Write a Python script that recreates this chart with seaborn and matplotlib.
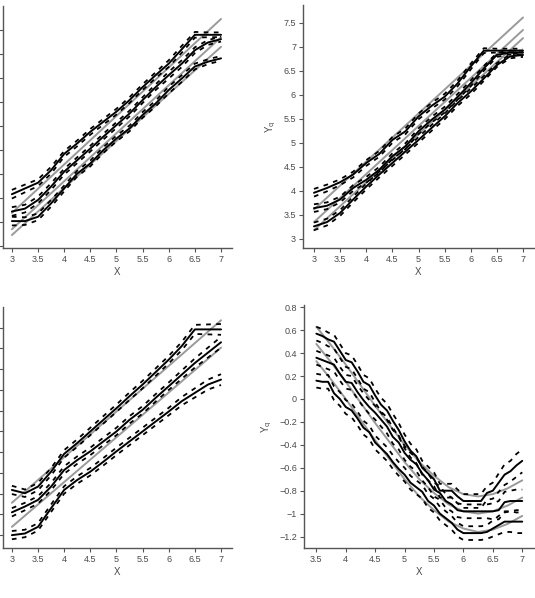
import numpy as np
import matplotlib
matplotlib.use("Agg")
import matplotlib.pyplot as plt
import seaborn as sns

sns.set_style("ticks")
plt.rcParams['font.family'] = ['Liberation Sans Narrow', 'Liberation Sans', 'DejaVu Sans']

# ---- data ----
x_lin = [3.0, 3.25, 3.5, 3.75, 4.0, 4.25, 4.5, 4.75, 5.0, 5.25, 5.5, 5.75, 6.0, 6.25, 6.5, 6.75, 7.0]
gray_x = [3.0, 7.0]

# top left panel
tl_gray = [[3.23, 7.15], [3.35, 7.35], [3.69, 7.73]]
tl_low = [3.52, 3.52, 3.61, 3.89, 4.20, 4.51, 4.72, 5.00, 5.24, 5.45, 5.73, 5.97, 6.25, 6.49, 6.74, 6.84, 6.91]
tl_mid = [3.72, 3.78, 3.96, 4.24, 4.55, 4.79, 5.03, 5.28, 5.52, 5.76, 6.04, 6.31, 6.56, 6.80, 7.08, 7.24, 7.31]
tl_up = [4.08, 4.20, 4.32, 4.58, 4.92, 5.14, 5.38, 5.59, 5.80, 6.04, 6.31, 6.56, 6.80, 7.10, 7.40, 7.40, 7.40]
tl_band = [0.09, 0.08, 0.07, 0.07, 0.06, 0.06, 0.06, 0.06, 0.06, 0.06, 0.06, 0.06, 0.07, 0.07, 0.06, 0.05, 0.05]

# top right panel
tr_gray = [[3.18, 7.18], [3.35, 7.35], [3.61, 7.61]]
tr_low = [3.26, 3.35, 3.54, 3.82, 4.09, 4.34, 4.58, 4.82, 5.06, 5.31, 5.55, 5.83, 6.07, 6.34, 6.62, 6.80, 6.83]
tr_mid = [3.64, 3.69, 3.82, 4.06, 4.23, 4.44, 4.72, 4.93, 5.24, 5.48, 5.69, 5.96, 6.24, 6.55, 6.83, 6.88, 6.88]
tr_up = [3.96, 4.06, 4.18, 4.34, 4.58, 4.77, 5.06, 5.24, 5.55, 5.77, 5.96, 6.24, 6.59, 6.92, 6.92, 6.92, 6.92]
tr_band = [0.08, 0.07, 0.06, 0.06, 0.06, 0.06, 0.06, 0.06, 0.06, 0.06, 0.06, 0.06, 0.06, 0.05, 0.04, 0.04, 0.04]

# bottom left panel
bl_gray = [[2.70, 7.02], [3.28, 7.68]]
bl_low = [2.50, 2.54, 2.70, 3.15, 3.59, 3.83, 4.03, 4.27, 4.52, 4.76, 5.00, 5.24, 5.48, 5.73, 5.93, 6.13, 6.25]
bl_mid = [3.05, 3.19, 3.35, 3.67, 4.07, 4.31, 4.52, 4.76, 5.00, 5.28, 5.52, 5.81, 6.09, 6.37, 6.65, 6.90, 7.15]
bl_up = [3.59, 3.51, 3.67, 4.03, 4.46, 4.72, 5.00, 5.28, 5.56, 5.85, 6.13, 6.43, 6.73, 7.06, 7.46, 7.46, 7.46]
bl_band = [0.10, 0.09, 0.09, 0.09, 0.09, 0.09, 0.09, 0.09, 0.09, 0.09, 0.09, 0.09, 0.09, 0.10, 0.11, 0.12, 0.13]

# bottom right panel
br_x = [3.5, 3.6, 3.7, 3.8, 3.9, 4.0, 4.1, 4.2, 4.3, 4.4, 4.5, 4.6, 4.7, 4.8, 4.9, 5.0, 5.1, 5.2,
        5.3, 5.4, 5.5, 5.6, 5.7, 5.8, 5.9, 6.0, 6.1, 6.2, 6.3, 6.4, 6.5, 6.6, 6.7, 6.8, 6.9, 7.0]
br_up = [0.57, 0.55, 0.52, 0.50, 0.42, 0.34, 0.32, 0.24, 0.15, 0.12, 0.03, -0.05, -0.10, -0.19, -0.27, -0.37,
         -0.45, -0.50, -0.60, -0.65, -0.70, -0.80, -0.80, -0.80, -0.85, -0.89, -0.89, -0.89, -0.89, -0.82,
         -0.80, -0.73, -0.66, -0.63, -0.58, -0.54]
br_mid = [0.36, 0.34, 0.32, 0.30, 0.22, 0.15, 0.14, 0.06, -0.01, -0.07, -0.12, -0.18, -0.24, -0.33, -0.38,
          -0.47, -0.53, -0.57, -0.65, -0.71, -0.79, -0.82, -0.89, -0.92, -0.97, -0.98, -0.98, -0.98, -0.98,
          -0.98, -0.98, -0.97, -0.90, -0.89, -0.89, -0.89]
br_low = [0.16, 0.15, 0.15, 0.05, 0.00, -0.07, -0.10, -0.17, -0.25, -0.29, -0.38, -0.43, -0.48, -0.55, -0.61,
          -0.66, -0.73, -0.77, -0.81, -0.89, -0.93, -1.00, -1.04, -1.08, -1.14, -1.17, -1.17, -1.17, -1.17,
          -1.16, -1.13, -1.10, -1.07, -1.07, -1.07, -1.07]
br_band = [0.06, 0.06, 0.06, 0.06, 0.06, 0.06, 0.06, 0.06, 0.06, 0.06, 0.06, 0.06, 0.06, 0.06, 0.06, 0.06,
           0.06, 0.06, 0.06, 0.06, 0.06, 0.06, 0.06, 0.06, 0.06, 0.06, 0.06, 0.06, 0.06, 0.06, 0.07, 0.08,
           0.09, 0.09, 0.10, 0.10]
br_gx = [3.5, 3.75, 4.0, 4.25, 4.5, 4.75, 5.0, 5.25, 5.5, 5.75, 6.0, 6.25, 6.5, 6.75, 7.0]
br_gray = [
    [0.63, 0.47, 0.30, 0.12, -0.06, -0.23, -0.40, -0.55, -0.67, -0.77, -0.83, -0.85, -0.83, -0.78, -0.71],
    [0.48, 0.32, 0.15, -0.03, -0.21, -0.38, -0.55, -0.70, -0.82, -0.92, -0.98, -1.00, -0.98, -0.93, -0.86],
    [0.33, 0.17, 0.00, -0.18, -0.36, -0.53, -0.70, -0.85, -0.97, -1.07, -1.13, -1.16, -1.14, -1.09, -1.02],
]

GRAY = "#9a9a9a"
TXT = "#4a4a4a"
DASH = (0, (2.6, 3.0))


def draw_panel(ax, xs, curves, band, gx, grays):
    for g in grays:
        sns.lineplot(x=gx, y=g, ax=ax, color=GRAY, lw=1.4, sort=False)
    for c in curves:
        c = np.asarray(c)
        b = np.asarray(band)
        sns.lineplot(x=xs, y=c, ax=ax, color="black", lw=1.4, sort=False)
        sns.lineplot(x=xs, y=c + b, ax=ax, color="black", lw=1.3, linestyle=DASH, sort=False)
        sns.lineplot(x=xs, y=c - b, ax=ax, color="black", lw=1.3, linestyle=DASH, sort=False)


fig = plt.figure(figsize=(5.35, 5.98), dpi=100)
W, H = 535, 598


def add_ax(l, r, t, b):
    return fig.add_axes([l / W, 1 - b / H, (r - l) / W, (b - t) / H])


ax_tl = add_ax(3, 232, 6, 248)
ax_tr = add_ax(303, 534, 5, 248)
ax_bl = add_ax(3, 232, 307, 548)
ax_br = add_ax(304, 534, 305, 548)

draw_panel(ax_tl, x_lin, [tl_low, tl_mid, tl_up], tl_band, gray_x, tl_gray)
draw_panel(ax_tr, x_lin, [tr_low, tr_mid, tr_up], tr_band, gray_x, tr_gray)
draw_panel(ax_bl, x_lin, [bl_low, bl_mid, bl_up], bl_band, gray_x, bl_gray)
draw_panel(ax_br, br_x, [br_low, br_mid, br_up], br_band, br_gx, br_gray)

xt = [3, 3.5, 4, 4.5, 5, 5.5, 6, 6.5, 7]
xtl = ["3", "3.5", "4", "4.5", "5", "5.5", "6", "6.5", "7"]

ax_tl.set(xlim=(2.83, 7.21), ylim=(2.96, 8.0))
ax_tl.set_yticks(np.arange(3, 7.6, 0.5))
ax_tl.set_yticklabels([])
ax_bl.set(xlim=(2.83, 7.21), ylim=(2.19, 8.0))
ax_bl.set_yticks(np.arange(2.5, 7.6, 0.5))
ax_bl.set_yticklabels([])

ax_tr.set(xlim=(2.79, 7.21), ylim=(2.81, 7.87))
ax_tr.set_yticks([3, 3.5, 4, 4.5, 5, 5.5, 6, 6.5, 7, 7.5])
ax_tr.set_yticklabels(["3", "3.5", "4", "4.5", "5", "5.5", "6", "6.5", "7", "7.5"])

for ax in (ax_tl, ax_tr, ax_bl):
    ax.set_xticks(xt)
    ax.set_xticklabels(xtl)

ax_br.set(xlim=(3.29, 7.2), ylim=(-1.30, 0.82))
ax_br.set_xticks([3.5, 4, 4.5, 5, 5.5, 6, 6.5, 7])
ax_br.set_xticklabels(["3.5", "4", "4.5", "5", "5.5", "6", "6.5", "7"])
yv = [0.8, 0.6, 0.4, 0.2, 0, -0.2, -0.4, -0.6, -0.8, -1, -1.2]
ax_br.set_yticks(yv)
ax_br.set_yticklabels(["0.8", "0.6", "0.4", "0.2", "0", "\u22120.2", "\u22120.4", "\u22120.6",
                       "\u22120.8", "\u22121", "\u22121.2"])

for ax in (ax_tl, ax_tr, ax_bl, ax_br):
    sns.despine(ax=ax)
    for s in ("left", "bottom"):
        ax.spines[s].set_color("#555555")
        ax.spines[s].set_linewidth(1.0)
    ax.tick_params(labelsize=6.5, colors="#555555", labelcolor=TXT, length=3, width=0.8, pad=2)
    ax.set_xlabel("X", fontsize=7, color=TXT, labelpad=2)
    ax.set_ylabel("")

for ax in (ax_tr, ax_br):
    ax.set_ylabel(r"Y$_{\mathrm{q}}$", fontsize=7, color=TXT, labelpad=4)

fig.savefig("out.png", dpi=100)
